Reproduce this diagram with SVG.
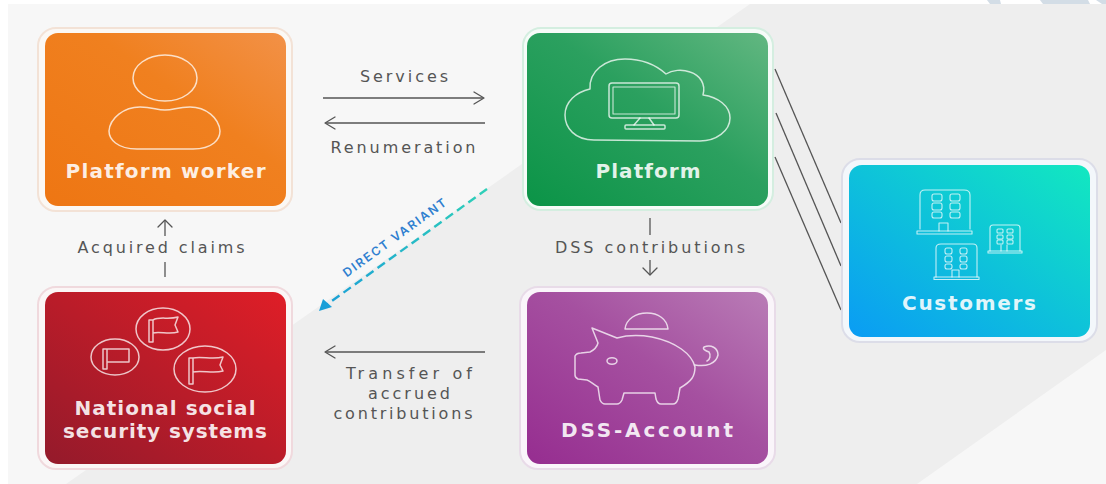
<svg xmlns="http://www.w3.org/2000/svg" width="1106" height="484" viewBox="0 0 1106 484">
<style>
.lbl{font-family:"DejaVu Sans","Liberation Sans",sans-serif;font-size:16px;fill:#555;text-anchor:middle}
.ttl{font-family:"DejaVu Sans","Liberation Sans",sans-serif;font-size:20px;font-weight:700;text-anchor:middle;fill:#fff;fill-opacity:.88}
.ico{fill:none;stroke:#fff;stroke-opacity:.75;stroke-width:1.5;stroke-linejoin:round;stroke-linecap:round}
.thin{stroke-width:1.1}
.ln{fill:none;stroke:#555;stroke-width:1.3}
.ar{fill:none;stroke:#555;stroke-width:1.3;stroke-linecap:round;stroke-linejoin:round}
</style>
<defs>
<linearGradient id="gO" x1="0" y1="1" x2="1" y2="0"><stop offset="0" stop-color="#ee7613"/><stop offset=".6" stop-color="#f0801f"/><stop offset="1" stop-color="#f29147"/></linearGradient>
<linearGradient id="gG" x1="0" y1="1" x2="1" y2="0"><stop offset="0" stop-color="#0b9447"/><stop offset=".55" stop-color="#2ba05f"/><stop offset="1" stop-color="#62b781"/></linearGradient>
<linearGradient id="gR" x1="0" y1="1" x2="1" y2="0"><stop offset="0" stop-color="#941a2b"/><stop offset="1" stop-color="#df1e27"/></linearGradient>
<linearGradient id="gP" x1="0" y1="1" x2="1" y2="0"><stop offset="0" stop-color="#962d90"/><stop offset=".55" stop-color="#a550a0"/><stop offset="1" stop-color="#b97cb6"/></linearGradient>
<linearGradient id="gC" x1="0" y1="1" x2="1" y2="0"><stop offset="0" stop-color="#0a9cf4"/><stop offset="1" stop-color="#12e8c0"/></linearGradient>
<linearGradient id="gD" gradientUnits="userSpaceOnUse" x1="487" y1="189" x2="322" y2="308"><stop offset="0" stop-color="#2fd0b8"/><stop offset="1" stop-color="#1a9fd8"/></linearGradient>
</defs>
<rect width="1106" height="484" fill="#fff"/>
<rect x="8" y="4" width="1098" height="480" fill="#f7f7f7"/>
<polygon points="750,4 1106,4 1106,350 917,484 66,484" fill="#eeeeee"/>
<g fill="#d3dde6"><polygon points="987,0 1000,0 1001,4 990,4"/><polygon points="1040,0 1088,0 1090,4 1043,4"/><polygon points="1096,0 1106,0 1106,4 1102,4"/></g>

<g id="connectors">
<path class="ln" d="M323 98H483"/><path class="ar" d="M474 92L484 98L474 104"/>
<path class="ln" d="M326 123H485"/><path class="ar" d="M335 117L325 123L335 129"/>
<path class="ln" d="M650 218V235"/>
<path class="ln" d="M650 260V275"/><path class="ar" d="M643 268L650 275L657 268"/>
<path class="ln" d="M165 262V277"/>
<path class="ln" d="M165 220V236"/><path class="ar" d="M158 227L165 220L172 227"/>
<path class="ln" d="M326 352H485"/><path class="ar" d="M335 346L325 352L335 358"/>
<path class="ln" d="M775 69L841 223"/><path class="ln" d="M776 113L841 266"/><path class="ln" d="M775 157L841 310"/>
<path d="M487 189L325 306" fill="none" stroke="url(#gD)" stroke-width="2.4" stroke-dasharray="9 5"/>
<polygon points="319,311 332,307 323,299" fill="#1a9fd8"/>
</g>

<g id="platform-worker">
<rect x="38" y="28" width="254" height="183" rx="18" fill="#fbf8f4" stroke="#f3e2d6" stroke-width="2"/>
<rect x="45" y="33" width="241" height="173" rx="13" fill="url(#gO)"/>
<ellipse class="ico" cx="165" cy="78" rx="32" ry="23"/>
<path class="ico" d="M137 149H193C213 149 220 139 220 131C219 118 206 107 190 107C177 107 174 110 165 110C156 110 153 107 140 107C124 107 110 118 109 131C109 139 117 149 137 149Z"/>
<text class="ttl" x="165.500" y="178" textLength="200" lengthAdjust="spacing">Platform worker</text>
</g>

<g id="platform">
<rect x="523" y="28" width="250" height="182" rx="18" fill="#f6fbf8" stroke="#d4eee0" stroke-width="2"/>
<rect x="527" y="33" width="241" height="173" rx="13" fill="url(#gG)"/>
<path class="ico" d="M594 140C575 140 565 128 565 115C565 102 576 92 590 89C589 71 605 59 625 59C644 59 656 65 666 74C672 70 682 69 690 72C700 75 706 84 703 95C718 97 730 106 730 118C730 131 716 141 700 141Z"/>
<rect class="ico" x="609" y="83" width="70" height="35" rx="3"/>
<rect class="ico thin" x="613" y="87" width="62" height="27"/>
<path class="ico" d="M640 118L634 125M649 118L654 125"/>
<rect class="ico" x="625" y="125" width="40" height="4" rx="1"/>
<text class="ttl" x="648" y="178" textLength="105" lengthAdjust="spacing">Platform</text>
</g>

<g id="national-social-security-systems">
<rect x="38" y="287" width="254" height="182" rx="18" fill="#fbf6f6" stroke="#f0d9dd" stroke-width="2"/>
<rect x="45" y="292" width="241" height="172" rx="13" fill="url(#gR)"/>
<ellipse class="ico" cx="163" cy="329" rx="27" ry="21"/>
<path class="ico" d="M149 342V320H153V342ZM153 320C160 316 168 320 178 317L175 325L178 332C169 335 160 331 153 333"/>
<ellipse class="ico" cx="115" cy="357" rx="24" ry="18"/>
<path class="ico" d="M103 369V349H107V369ZM107 349H129V362H107"/>
<ellipse class="ico" cx="205" cy="369" rx="31" ry="23"/>
<path class="ico" d="M189 384V358H193V384ZM193 358C202 356 212 360 223 357L220 365L223 371C213 374 203 370 193 372"/>
<text class="ttl" x="165" y="415" textLength="181" lengthAdjust="spacing">National social</text>
<text class="ttl" x="165" y="438" textLength="204" lengthAdjust="spacing">security systems</text>
</g>

<g id="dss-account">
<rect x="520" y="287" width="255" height="182" rx="18" fill="#faf5fa" stroke="#e8dbe8" stroke-width="2"/>
<rect x="527" y="292" width="241" height="172" rx="13" fill="url(#gP)"/>
<path class="ico" d="M625 329C626 319 636 313 647 313C658 313 667 319 668 329Z"/>
<path class="ico" d="M592 328L617 338C628 335 640 335 652 337C676 342 692 354 695 367C695 376 692 381 680 388L678 399C677 402 676 404 673 404H661C658 404 657 402 656 399L655 393H624L622 400C621 402 620 404 617 404H605C602 404 601 402 600 400L598 387C593 384 590 381 587 380L578 379C576 378 575 377 575 375V356C576 354 578 353 581 353L590 352C594 350 597 347 598 343Z"/>
<ellipse class="ico" cx="612" cy="361" rx="5" ry="3.200"/>
<path class="ico" d="M695 365C706 367 716 364 718 355C718 348 711 344 704 347C702 349 706 351 709 352C711 355 710 360 707 361"/>
<text class="ttl" x="647" y="437" textLength="172" lengthAdjust="spacing">DSS-Account</text>
</g>

<g id="customers">
<rect x="842" y="159" width="255" height="183" rx="18" fill="#f3f7fb" stroke="#dcdde8" stroke-width="2"/>
<rect x="849" y="165" width="241" height="172" rx="13" fill="url(#gC)"/>
<path class="ico thin" d="M920 229V195C920 191 922 190 925 190H964C968 190 970 191 970 195V229"/>
<rect class="ico thin" x="917" y="231" width="55" height="3"/>
<path class="ico thin" d="M939 231V223H948V231"/>
<rect class="ico thin" x="932" y="194" width="10" height="7" rx="2"/><rect class="ico thin" x="950" y="194" width="10" height="7" rx="2"/>
<rect class="ico thin" x="932" y="203" width="10" height="7" rx="2"/><rect class="ico thin" x="950" y="203" width="10" height="7" rx="2"/>
<rect class="ico thin" x="932" y="212" width="10" height="6" rx="2"/><rect class="ico thin" x="950" y="212" width="10" height="6" rx="2"/>
<path class="ico thin" d="M936 277V248C936 245 938 244 941 244H973C976 244 977 245 977 248V277"/>
<rect class="ico thin" x="934" y="277" width="45" height="2.500"/>
<path class="ico thin" d="M952 277V270H959V277"/>
<rect class="ico thin" x="945" y="248" width="7" height="6" rx="2"/><rect class="ico thin" x="960" y="248" width="7" height="6" rx="2"/>
<rect class="ico thin" x="945" y="256" width="7" height="6" rx="2"/><rect class="ico thin" x="960" y="256" width="7" height="6" rx="2"/>
<rect class="ico thin" x="945" y="264" width="7" height="5" rx="2"/><rect class="ico thin" x="960" y="264" width="7" height="5" rx="2"/>
<path class="ico thin" d="M990 251V228C990 226 991 225 993 225H1017C1019 225 1020 226 1020 228V251"/>
<rect class="ico thin" x="988" y="251" width="34" height="2"/>
<path class="ico thin" d="M1001 251V245M1007 251V245"/>
<rect class="ico thin" x="997" y="229" width="6" height="4" rx="1"/><rect class="ico thin" x="1007" y="229" width="6" height="4" rx="1"/>
<rect class="ico thin" x="997" y="235" width="6" height="4" rx="1"/><rect class="ico thin" x="1007" y="235" width="6" height="4" rx="1"/>
<rect class="ico thin" x="997" y="240" width="6" height="4" rx="1"/><rect class="ico thin" x="1007" y="240" width="6" height="4" rx="1"/>
<text class="ttl" x="969" y="310" textLength="134" lengthAdjust="spacing">Customers</text>
</g>

<g id="labels">
<text class="lbl" x="404" y="82" textLength="88" lengthAdjust="spacing">Services</text>
<text class="lbl" x="403" y="153" textLength="145" lengthAdjust="spacing">Renumeration</text>
<text class="lbl" x="161" y="253" textLength="167" lengthAdjust="spacing">Acquired claims</text>
<text class="lbl" x="650" y="253" textLength="190" lengthAdjust="spacing">DSS contributions</text>
<text class="lbl" x="409" y="379" textLength="126" lengthAdjust="spacing">Transfer of</text>
<text class="lbl" x="409" y="399" textLength="82" lengthAdjust="spacing">accrued</text>
<text class="lbl" x="403" y="419" textLength="139" lengthAdjust="spacing">contributions</text>
<text x="397" y="241" transform="rotate(-36 397 241)" font-family="Inter,'Liberation Sans',sans-serif" font-size="12" font-weight="600" fill="#2f7fd0" text-anchor="middle" textLength="124" lengthAdjust="spacing">DIRECT VARIANT</text>
</g>
</svg>
